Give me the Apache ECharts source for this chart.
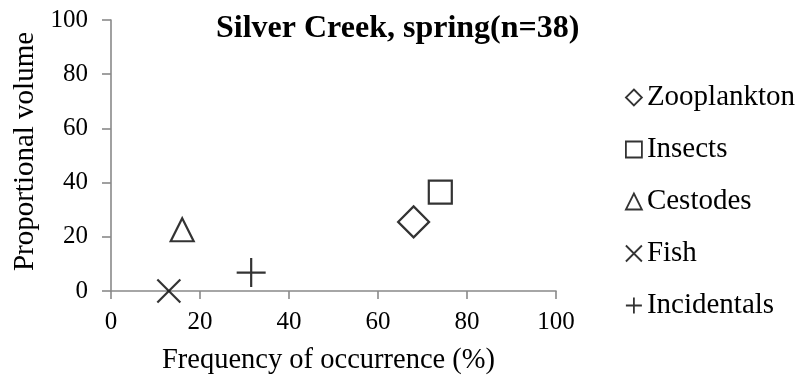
<!DOCTYPE html>
<html>
<head>
<meta charset="utf-8">
<script src="https://cdn.jsdelivr.net/npm/echarts@6/dist/echarts.min.js"></script>
<style>
  html, body { margin: 0; padding: 0; background: #ffffff; }
  #chart { width: 801px; height: 381px; }
</style>
</head>
<body>
<div id="chart"></div>
<script>
// Diet composition: frequency of occurrence vs proportional volume by prey type
const preyTypes = ['Zooplankton', 'Insects', 'Cestodes', 'Fish', 'Incidentals'];
const frequencyPct = [68, 74, 16, 13, 31.5];
const proportionalVolume = [25.5, 36.5, 22.6, 0, 6.8];
const axisTicks = [0, 20, 40, 60, 80, 100];

const FONT = '"Liberation Serif", "Times New Roman", serif';

// Marker shapes per prey type (open outlines)
const markerShapes = [
  'diamond',
  'rect',
  'triangle',
  'path://M0,0L10,10M10,0L0,10',
  'path://M5,0L5,10M0,5L10,5'
];
const markerSizes = [31, 23, 23, 23, 29];

const series = preyTypes.map((name, i) => ({
  name: name,
  type: 'scatter',
  clip: false,
  symbol: markerShapes[i],
  symbolSize: markerSizes[i],
  itemStyle: {
    color: 'rgba(255,255,255,0)',
    borderColor: '#000000',
    borderWidth: 2.2
  },
  emphasis: { disabled: true },
  data: [[frequencyPct[i], proportionalVolume[i]]]
}));

const chart = echarts.init(document.getElementById('chart'), null, { renderer: 'canvas' });
chart.setOption({
  animation: false,
  backgroundColor: '#ffffff',
  title: {
    text: 'Silver Creek, spring(n=38)',
    left: 211,
    top: 8,
    textStyle: {
      fontFamily: FONT,
      fontWeight: 'bold',
      fontSize: 32,
      color: '#000000'
    }
  },
  grid: {
    left: 111,
    right: 245,
    top: 20,
    bottom: 90,
    containLabel: false
  },
  legend: {
    orient: 'vertical',
    left: 620,
    top: 78,
    itemGap: 23,
    itemWidth: 16,
    itemHeight: 16,
    data: preyTypes.map((name, i) => ({
      name: name,
      icon: markerShapes[i],
      itemStyle: {
        color: 'rgba(255,255,255,0)',
        borderColor: '#000000',
        borderWidth: 1.8
      }
    })),
    textStyle: {
      fontFamily: FONT,
      fontSize: 29,
      color: '#000000',
      padding: [0, 0, 8, 0]
    },
    selectedMode: false
  },
  xAxis: {
    type: 'value',
    min: axisTicks[0],
    max: axisTicks[axisTicks.length - 1],
    interval: axisTicks[1] - axisTicks[0],
    name: 'Frequency of occurrence (%)',
    nameLocation: 'middle',
    nameGap: 55,
    nameTextStyle: {
      fontFamily: FONT,
      fontSize: 28.5,
      color: '#000000',
      verticalAlign: 'top',
      padding: [0, 10, 0, 0]
    },
    axisLine: { show: true, lineStyle: { color: '#898989', width: 1.6 } },
    axisTick: { show: true, length: 8, lineStyle: { color: '#898989', width: 1.6 } },
    axisLabel: {
      margin: 19,
      fontFamily: FONT,
      fontSize: 25,
      color: '#000000'
    },
    splitLine: { show: false }
  },
  yAxis: {
    type: 'value',
    min: axisTicks[0],
    max: axisTicks[axisTicks.length - 1],
    interval: axisTicks[1] - axisTicks[0],
    name: 'Proportional volume',
    nameLocation: 'middle',
    nameGap: 70,
    nameTextStyle: {
      fontFamily: FONT,
      fontSize: 29,
      color: '#000000',
      padding: [0, 0, 0, 8]
    },
    axisLine: { show: true, lineStyle: { color: '#898989', width: 1.6 } },
    axisTick: { show: true, length: 9, lineStyle: { color: '#898989', width: 1.6 } },
    axisLabel: {
      margin: 23,
      fontFamily: FONT,
      fontSize: 25,
      color: '#000000'
    },
    splitLine: { show: false }
  },
  series: series
});
</script>
</body>
</html>
